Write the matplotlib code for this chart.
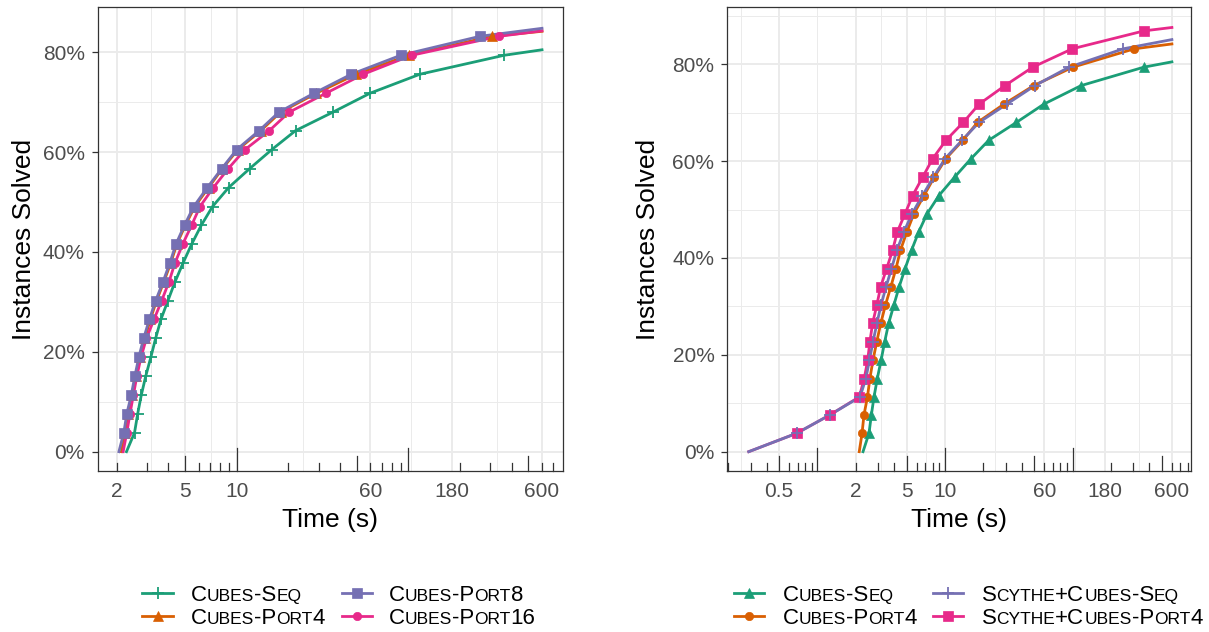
import numpy as np
import matplotlib
matplotlib.use("Agg")
import matplotlib.pyplot as plt
from matplotlib.lines import Line2D
from matplotlib.ticker import FixedLocator, FuncFormatter, NullFormatter

plt.rcParams['font.family'] = ['Liberation Sans', 'DejaVu Sans']

# share of instances solved (%) at which the markers sit
levels = [3.8, 7.6, 11.3, 15.1, 18.9, 22.7, 26.5, 30.2, 34.0, 37.8, 41.6, 45.4,
          49.1, 52.9, 56.7, 60.5, 64.3, 68.0, 71.8, 75.6, 79.4, 83.2, 86.9]

# time (s) needed to reach each level
cubes_seq = [2.54, 2.65, 2.78, 2.95, 3.16, 3.37, 3.62, 3.97, 4.37, 4.87, 5.47, 6.23,
             7.23, 8.97, 11.9, 16.0, 22.0, 36.3, 59.8, 116.6, 361]
cubes_port4 = [2.24, 2.32, 2.47, 2.58, 2.73, 2.92, 3.14, 3.41, 3.76, 4.13, 4.48, 5.03,
               5.70, 6.85, 8.25, 10.15, 13.8, 18.0, 29.1, 49.6, 100.3, 305]
cubes_port8 = [2.20, 2.29, 2.43, 2.55, 2.69, 2.87, 3.10, 3.37, 3.72, 4.08, 4.43, 4.97,
               5.62, 6.74, 8.18, 10.0, 13.5, 17.6, 28.2, 46.5, 90.2, 261]
cubes_port16 = [2.29, 2.39, 2.50, 2.62, 2.77, 2.98, 3.30, 3.65, 4.03, 4.37, 4.85, 5.47,
                6.11, 7.31, 8.93, 11.17, 15.48, 20.2, 33.1, 54.6, 104.5, 338]
scythe_seq = [0.689, 1.256, 2.16, 2.40, 2.56, 2.73, 2.93, 3.15, 3.45, 3.81, 4.20, 4.77,
              5.51, 6.66, 8.13, 10.0, 13.6, 18.5, 30.6, 50.7, 93.7, 249.6]
scythe_port4 = [0.689, 1.256, 2.13, 2.33, 2.48, 2.58, 2.71, 2.92, 3.13, 3.49, 3.89, 4.23,
                4.86, 5.58, 6.69, 8.01, 10.18, 13.91, 18.57, 29.53, 48.68, 99.5, 362.7]

# first solve time and share solved at the 600 s timeout
start = {'seq': 2.28, 'p4': 2.13, 'p8': 2.06, 'p16': 2.18, 'sseq': 0.29, 'sp4': 0.29}
final = {'seq': 80.5, 'p4': 84.2, 'p8': 84.8, 'p16': 84.3, 'sseq': 85.1, 'sp4': 87.6}

green, orange, purple, pink = '#1B9E77', '#D95F02', '#7570B3', '#E7298A'

left_series = [
    ('Cubes-Seq', cubes_seq, 'seq', green, '+'),
    ('Cubes-Port4', cubes_port4, 'p4', orange, '^'),
    ('Cubes-Port16', cubes_port16, 'p16', pink, 'o'),
    ('Cubes-Port8', cubes_port8, 'p8', purple, 's'),
]
right_series = [
    ('Cubes-Seq', cubes_seq, 'seq', green, '^'),
    ('Cubes-Port4', cubes_port4, 'p4', orange, 'o'),
    ('Scythe+Cubes-Port4', scythe_port4, 'sp4', pink, 's'),
    ('Scythe+Cubes-Seq', scythe_seq, 'sseq', purple, '+'),
]
left_legend = ['Cubes-Seq', 'Cubes-Port4', 'Cubes-Port8', 'Cubes-Port16']
right_legend = ['Cubes-Seq', 'Cubes-Port4', 'Scythe+Cubes-Seq', 'Scythe+Cubes-Port4']

ms = {'+': 9, '^': 7.5, 'o': 6, 's': 6.5}
LW = 2.0

W, H = 1209, 632
fig = plt.figure(figsize=(W / 100, H / 100), dpi=100)


def axpos(l, t, r, b):
    return [l / W, 1 - b / H, (r - l) / W, (b - t) / H]


axL = fig.add_axes(axpos(97.7, 7, 562.7, 471))
axR = fig.add_axes(axpos(727.3, 7, 1191, 471))


def draw_series(ax, series):
    for name, times, key, col, mk in series:
        n = len(times)
        xs = [start[key]] + times + [600]
        ys = [0] + levels[:n] + [final[key]]
        ax.plot(xs, ys, color=col, lw=LW, zorder=3, solid_joinstyle='round')
    for name, times, key, col, mk in series:
        ax.plot(times, levels[:len(times)], ls='none', marker=mk, color=col,
                ms=ms[mk], mew=1.3 if mk == '+' else 0.5, zorder=4)


def style(ax, xlim, ylim, xbreaks, xminor, yminor):
    ax.set_xscale('log')
    ax.set_xlim(*xlim)
    ax.set_ylim(*ylim)
    ax.xaxis.set_major_locator(FixedLocator(xbreaks))
    ax.xaxis.set_major_formatter(FuncFormatter(lambda v, p: f'{v:g}'))
    ax.xaxis.set_minor_locator(FixedLocator(xminor))
    ax.xaxis.set_minor_formatter(NullFormatter())
    ax.yaxis.set_major_locator(FixedLocator([0, 20, 40, 60, 80]))
    ax.yaxis.set_major_formatter(FuncFormatter(lambda v, p: f'{v:.0f}%'))
    ax.yaxis.set_minor_locator(FixedLocator(yminor))
    ax.grid(True, which='major', color='#EBEBEB', lw=1.4, zorder=0)
    ax.grid(True, which='minor', color='#EBEBEB', lw=0.7, zorder=0)
    ax.set_axisbelow(True)
    for s in ax.spines.values():
        s.set_color('#333333')
        s.set_linewidth(0.9)
    ax.tick_params(axis='x', which='both', length=0, pad=8, labelsize=15,
                   labelcolor='#4D4D4D')
    ax.tick_params(axis='y', which='major', length=4.3, width=0.9, color='#333333',
                   pad=5, labelsize=15, labelcolor='#4D4D4D')
    ax.tick_params(axis='y', which='minor', length=0)
    # log ticks along the bottom of the panel
    lo, hi = xlim
    tr = ax.get_xaxis_transform()
    for dec in range(-1, 4):
        for m in range(1, 10):
            v = m * 10.0 ** dec
            if lo <= v <= hi:
                h = 0.049 if m == 1 else (0.033 if m == 5 else 0.017)
                ax.plot([v, v], [0, h], transform=tr, color='#333333', lw=0.9,
                        zorder=5, clip_on=False)


draw_series(axL, left_series)
draw_series(axR, right_series)

style(axL, (1.55, 792), (-3.87, 89.07), [2, 5, 10, 60, 180, 600],
      [3.162, 7.071, 24.49, 103.9, 328.6], [10, 30, 50, 70])
style(axR, (0.197, 847), (-3.99, 91.83), [0.5, 2, 5, 10, 60, 180, 600],
      [0.25, 1, 3.162, 7.071, 24.49, 103.9, 328.6], [10, 30, 50, 70, 90])

for cx, ylx in [(330.2, 24), (959.2, 648)]:
    fig.text(cx / W, 1 - 527 / H, 'Time (s)', ha='center', va='baseline', fontsize=19)
    fig.text(ylx / W, 1 - 239 / H, 'Instances Solved', ha='center', va='center',
             rotation=90, fontsize=19)


def smallcaps(ax, x, y, s, size, ratio=0.78):
    runs = []
    for ch in s:
        small = ch.islower()
        if runs and runs[-1][1] == small:
            runs[-1][0] += ch
        else:
            runs.append([ch, small])
    prev = None
    for txt, small in runs:
        fs = size * ratio if small else size
        if prev is None:
            prev = ax.annotate(txt.upper(), xy=(x, H - y), xycoords='figure pixels',
                               fontsize=fs, ha='left', va='baseline',
                               annotation_clip=False)
        else:
            prev = ax.annotate(txt.upper(), xy=(1, H - y), xycoords=(prev, 'figure pixels'),
                               fontsize=fs, ha='left', va='baseline',
                               annotation_clip=False)


def legend(ax, series, order, cols):
    lookup = {s[0]: s for s in series}
    rows = [593.3, 616]
    for i, name in enumerate(order):
        _, _, _, col, mk = lookup[name]
        hx0, hx1, tx = cols[i // 2]
        cy = rows[i % 2]
        fig.add_artist(Line2D([hx0 / W, hx1 / W], [1 - cy / H] * 2, color=col, lw=LW,
                              transform=fig.transFigure))
        fig.add_artist(Line2D([(hx0 + hx1) / 2 / W], [1 - cy / H], color=col, marker=mk,
                              ms=ms[mk], mew=1.3 if mk == '+' else 0.5,
                              transform=fig.transFigure))
        smallcaps(ax, tx, cy + 7.6, name, 16)


legend(axL, left_series, left_legend, [(142, 173, 190.7), (341.7, 371.7, 389)])
legend(axR, right_series, right_legend, [(734, 764, 782.7), (932.7, 963, 981.7)])

fig.savefig('out.png', dpi=100)
